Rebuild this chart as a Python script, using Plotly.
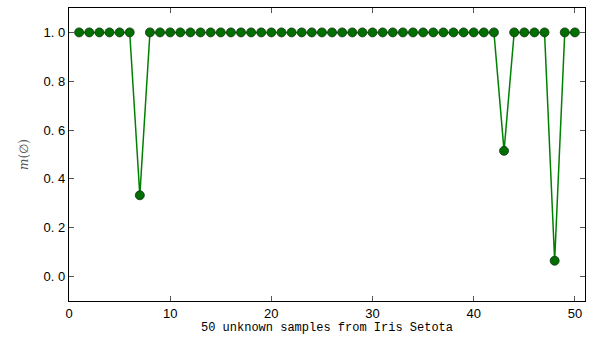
import plotly.graph_objects as go

samples = list(range(1, 51))
m_values = [1.0] * 50
m_values[6] = 0.333   # sample 7
m_values[42] = 0.515  # sample 43
m_values[47] = 0.065  # sample 48

y_ticks = [0.0, 0.2, 0.4, 0.6, 0.8, 1.0]
y_tick_labels = ["0. 0", "0. 2", "0. 4", "0. 6", "0. 8", "1. 0"]
x_ticks = [0, 10, 20, 30, 40, 50]

fig = go.Figure()
fig.add_trace(go.Scatter(
    x=samples, y=m_values, mode="lines+markers",
    line=dict(color="#008000", width=1.5),
    marker=dict(color="#006f00", size=9, line=dict(color="#143214", width=0.8)),
    showlegend=False,
))

fig.update_layout(
    width=590, height=340,
    margin=dict(l=69, r=5, t=8, b=39),
    plot_bgcolor="white", paper_bgcolor="white",
    font=dict(family="Liberation Sans", size=12, color="black"),
)
fig.update_xaxes(
    range=[0, 51], tickvals=x_ticks, showgrid=False, zeroline=False,
    showline=True, linecolor="black", linewidth=1.3, mirror="ticks",
    ticks="inside", ticklen=5, tickcolor="#555555",
    tickfont=dict(family="Liberation Sans", size=13),
    title=dict(text="50 unknown samples from Iris Setota",
               font=dict(family="Liberation Mono", size=12), standoff=1),
)
fig.update_yaxes(
    range=[-0.1, 1.1], tickvals=y_ticks, ticktext=y_tick_labels,
    showgrid=False, zeroline=False,
    showline=True, linecolor="black", linewidth=1.3, mirror="ticks",
    ticks="inside", ticklen=5, tickcolor="#555555",
    tickfont=dict(family="Liberation Sans", size=13),
    title=dict(text="<i>m</i>(∅)", font=dict(family="DejaVu Serif", size=12, color="#555555"), standoff=12),
)

fig.write_html("out.html")
